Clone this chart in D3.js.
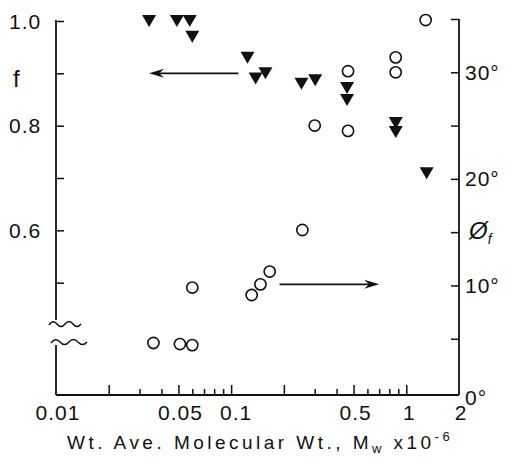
<!DOCTYPE html>
<html><head><meta charset="utf-8">
<script src="https://cdn.jsdelivr.net/npm/d3@7"></script>
<style>
body{margin:0;background:#fff}
svg{display:block}
text{font-family:"Liberation Sans",Arial,sans-serif;fill:#111}
</style>
</head><body>
<svg id="c" width="510" height="459"></svg>
<script>
// ---- data ----
const triM   = [0.034, 0.049, 0.058, 0.060, 0.124, 0.138, 0.157, 0.252, 0.302, 0.459, 0.459, 0.871, 0.871, 1.307];
const triF   = [1.0,   1.0,   1.0,   0.97,  0.93,  0.89,  0.90,  0.88,  0.887, 0.872, 0.849, 0.805, 0.788, 0.709];
const circM  = [0.036, 0.051, 0.060, 0.060, 0.131, 0.147, 0.166, 0.255, 0.300, 0.465, 0.465, 0.87, 0.87, 1.29];
const circPhi= [4.6,   4.5,   4.4,   9.8,   9.1,   10.1,  11.3,  15.2,  25.0,  30.1,  24.5,  31.4, 30.0, 34.9];
const xMajorTicks = [0.02, 0.05, 0.1, 0.2, 0.5, 1];
const xMinorTicks = [0.03, 0.04, 0.06, 0.07, 0.08, 0.09, 0.3, 0.4, 0.6, 0.7, 0.8, 0.9];
const xLabelVals  = [0.01, 0.05, 0.1, 0.5, 1, 2];
const xLabelText  = ["0.01", "0.05", "0.1", "0.5", "1", "2"];
const fTicks      = [0.5, 0.6, 0.7, 0.8, 0.9, 1.0];
const fLabelVals  = [0.6, 0.8, 1.0];
const phiTicks    = [5, 10, 15, 20, 25, 30, 35];
const phiLabelVals= [0, 10, 20, 30];

const svg = d3.select("#c");
const x  = d3.scaleLog().domain([0.01, 2]).range([56, 459]);
const yF = d3.scaleLinear().domain([0.4, 1.0]).range([335, 21]);
const yP = d3.scaleLinear().domain([0, 35]).range([392, 19]);
const xAxisY = 395;
const ink = "#111";

// ---- axes lines ----
const g = svg.append("g").attr("stroke", ink).attr("fill", "none").attr("stroke-width", 1.8);
g.append("line").attr("x1", x(0.01)).attr("x2", x(2)).attr("y1", xAxisY).attr("y2", xAxisY);
g.append("line").attr("x1", x(0.01)).attr("x2", x(0.01)).attr("y1", yF(1.0) - 1).attr("y2", 320);
g.append("line").attr("x1", x(0.01)).attr("x2", x(0.01)).attr("y1", 345).attr("y2", xAxisY);
g.append("line").attr("x1", x(2)).attr("x2", x(2)).attr("y1", yP(35)).attr("y2", xAxisY);
// axis break wiggles
g.append("path").attr("stroke-width", 1.5).attr("d", "M49,325 q4,-6 8,-1 t8,0 t8,0 t8,0");
g.append("path").attr("stroke-width", 1.5).attr("d", "M51,343 q4.5,-6 9,-1 t9,0 t9,0 t9,0");

// ---- ticks (via d3 axes) ----
function styleAxis(sel){ sel.select(".domain").remove(); sel.selectAll("text").remove(); sel.selectAll("line").attr("stroke", ink).attr("stroke-width", 1.5); }
svg.append("g").attr("transform", `translate(0,${xAxisY})`)
   .call(d3.axisTop(x).tickValues(xMajorTicks).tickSize(10)).call(styleAxis);
svg.append("g").attr("transform", `translate(0,${xAxisY})`)
   .call(d3.axisTop(x).tickValues(xMinorTicks).tickSize(6)).call(styleAxis);
svg.append("g").attr("transform", `translate(${x(0.01)},0)`)
   .call(d3.axisRight(yF).tickValues(fTicks).tickSize(8)).call(styleAxis);
svg.append("g").attr("transform", `translate(${x(2)},0)`)
   .call(d3.axisLeft(yP).tickValues(phiTicks).tickSize(8)).call(styleAxis);

// ---- tick labels ----
const lab = svg.append("g").attr("font-size", 21).attr("letter-spacing", 1);
lab.selectAll(".xl").data(xLabelVals).join("text")
   .attr("x", d => x(d) + (d === 0.1 ? 5 : d === 1 ? 3 : 2)).attr("y", 420)
   .attr("text-anchor", "middle").text((d, i) => xLabelText[i]);
lab.selectAll(".fl").data(fLabelVals).join("text")
   .attr("x", 9).attr("y", d => yF(d)).attr("dy", "0.36em")
   .text(d => d.toFixed(1));
lab.selectAll(".pl").data(phiLabelVals).join("text")
   .attr("x", 465).attr("y", d => yP(d) + (d === 0 ? 5 : 0)).attr("dy", "0.36em")
   .text(d => d + "°");

// axis names
svg.append("text").attr("x", 13).attr("y", 87).attr("font-size", 24).text("f");
const phiLab = svg.append("text").attr("x", 469).attr("y", 239).attr("font-size", 24).attr("font-style", "italic");
phiLab.append("tspan").text("Ø");
phiLab.append("tspan").attr("font-size", 14).attr("dy", 5).text("f");

const title = svg.append("text").attr("x", 67).attr("y", 449).attr("font-size", 19);
title.append("tspan").text("Wt. Ave. Molecular Wt., M");
title.append("tspan").attr("font-size", 13).attr("dy", 4).text("w");
title.append("tspan").attr("dy", -4).text(" x10");
title.append("tspan").attr("font-size", 13).attr("dy", -8).text("-6");
{
  const w = title.node().getBBox().width;
  const n = "Wt. Ave. Molecular Wt., Mw x10-6".length;
  title.attr("letter-spacing", ((386 - w) / n).toFixed(2));
}

// ---- markers ----
const tri = "M-7,-6 L7,-6 L0,6 Z";
svg.append("g").selectAll("path").data(triM).join("path")
   .attr("d", tri).attr("fill", ink)
   .attr("transform", (d, i) => `translate(${x(d)},${yF(triF[i])})`);
svg.append("g").selectAll("circle").data(circM).join("circle")
   .attr("cx", d => x(d)).attr("cy", (d, i) => yP(circPhi[i])).attr("r", 5.6)
   .attr("fill", "#fff").attr("stroke", ink).attr("stroke-width", 1.6);

// ---- arrows ----
function arrow(x1, x2, y){
  const dir = Math.sign(x2 - x1);
  svg.append("line").attr("x1", x1).attr("x2", x2 - dir * 6).attr("y1", y).attr("y2", y)
     .attr("stroke", ink).attr("stroke-width", 1.6);
  svg.append("path").attr("fill", ink)
     .attr("d", `M${x2},${y} L${x2 - dir*15},${y - 4.5} L${x2 - dir*10},${y} L${x2 - dir*15},${y + 4.5} Z`);
}
arrow(x(0.110), x(0.034), yF(0.9));
arrow(x(0.189), x(0.70), yP(10.1));
</script>
</body></html>
